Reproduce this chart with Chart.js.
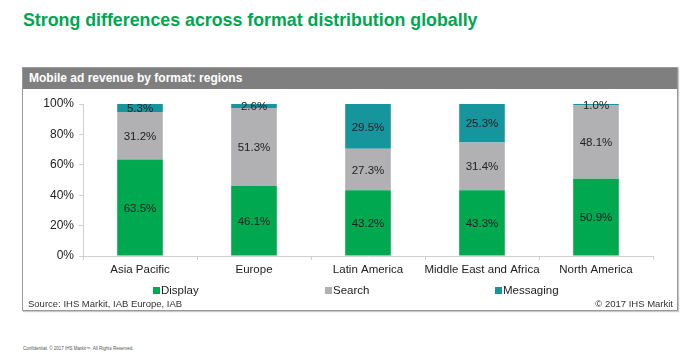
<!DOCTYPE html>
<html>
<head>
<meta charset="utf-8">
<script src="https://cdn.jsdelivr.net/npm/chart.js@4/dist/chart.umd.min.js"></script>
<style>
  html, body { margin:0; padding:0; background:#fff; }
  body { width:700px; height:355px; position:relative; overflow:hidden; font-family: "Liberation Sans", Arial, sans-serif; }
  #title { position:absolute; left:23px; top:10px; font-size:17.8px; font-weight:bold; color:#00a651; white-space:nowrap; }
  #box { position:absolute; left:22px; top:67px; width:656px; height:244px; border:1px solid #9a9a9a; box-shadow:1px 1px 1px #c8c8c8; box-sizing:border-box; }
  #hdr { position:absolute; left:0; top:0; right:0; height:21px; background:#7f7f7f; color:#fff; font-weight:bold; font-size:12px; line-height:21px; padding-left:6px; }
  #wrap { position:absolute; left:0px; top:20px; width:655px; height:223px; }
  .leg { position:absolute; top:216px; font-size:11.5px; color:#222; white-space:nowrap; line-height:13px; }
  .sw { display:inline-block; width:7px; height:7px; margin-right:1px; vertical-align:0px; }
  #src { position:absolute; left:5px; top:230px; font-size:9.5px; color:#333; }
  #cpy { position:absolute; right:4px; top:230px; font-size:9.5px; color:#333; }
  #foot { position:absolute; left:23px; top:346px; font-size:4.5px; color:#555; white-space:nowrap; }
</style>
</head>
<body>
<div id="title">Strong differences across format distribution globally</div>
<div id="box">
  <div id="hdr">Mobile ad revenue by format: regions</div>
  <div id="wrap"><canvas id="c" width="655" height="223"></canvas></div>
  <div class="leg" style="left:130px;"><span class="sw" style="background:#00a84f"></span>Display</div>
  <div class="leg" style="left:302px;"><span class="sw" style="background:#b1b1b4"></span>Search</div>
  <div class="leg" style="left:472px;"><span class="sw" style="background:#17959d"></span>Messaging</div>
  <div id="src">Source: IHS Markit, IAB Europe, IAB</div>
  <div id="cpy">© 2017 IHS Markit</div>
</div>
<div id="foot">Confidential. © 2017 IHS Markit™. All Rights Reserved.</div>
<script>
const categories = ["Asia Pacific", "Europe", "Latin America", "Middle East and Africa", "North America"];
const display   = [63.5, 46.1, 43.2, 43.3, 50.9];
const search    = [31.2, 51.3, 27.3, 31.4, 48.1];
const messaging = [5.3, 2.6, 29.5, 25.3, 1.0];
const yTicks = [0, 20, 40, 60, 80, 100];

const FONT = '"Liberation Sans", Arial, sans-serif';

const labelPlugin = {
  id: 'segLabels',
  afterDatasetsDraw(chart) {
    const ctx = chart.ctx;
    ctx.save();
    ctx.font = '11.5px ' + FONT;
    ctx.fillStyle = '#222';
    ctx.textAlign = 'center';
    ctx.textBaseline = 'middle';
    chart.data.datasets.forEach((ds, di) => {
      const meta = chart.getDatasetMeta(di);
      meta.data.forEach((bar, i) => {
        const v = ds.data[i];
        const cy = (bar.y + bar.base) / 2;
        ctx.fillText(v.toFixed(1) + '%', bar.x, cy + 1);
      });
    });
    ctx.restore();
  }
};

new Chart(document.getElementById('c'), {
  type: 'bar',
  data: {
    labels: categories,
    datasets: [
      { label: 'Display', data: display, backgroundColor: '#00a84f' },
      { label: 'Search', data: search, backgroundColor: '#b1b1b4' },
      { label: 'Messaging', data: messaging, backgroundColor: '#17959d' }
    ]
  },
  options: {
    responsive: false,
    animation: false,
    events: [],
    layout: { padding: { left: 0, right: 25, top: 16, bottom: 0 } },
    plugins: { legend: { display: false }, tooltip: { enabled: false } },
    datasets: { bar: { barPercentage: 0.4, categoryPercentage: 1.0 } },
    scales: {
      x: {
        stacked: true,
        afterFit(s) { s.height = 55; },
        grid: { drawOnChartArea: false, color: '#d0d0d0', tickLength: 4, offset: true },
        border: { color: '#d0d0d0' },
        ticks: { color: '#222', font: { size: 11.5, family: FONT }, padding: 3, maxRotation: 0, minRotation: 0, autoSkip: false }
      },
      y: {
        stacked: true,
        min: 0, max: 100,
        afterFit(s) { s.width = 60; },
        afterBuildTicks(s) { s.ticks = yTicks.map(v => ({ value: v })); },
        grid: { drawOnChartArea: false, color: '#d0d0d0', tickLength: 4 },
        border: { color: '#d0d0d0' },
        ticks: { color: '#222', font: { size: 12, family: FONT }, padding: 5, callback: v => v + '%' }
      }
    }
  },
  plugins: [labelPlugin]
});
</script>
</body>
</html>
